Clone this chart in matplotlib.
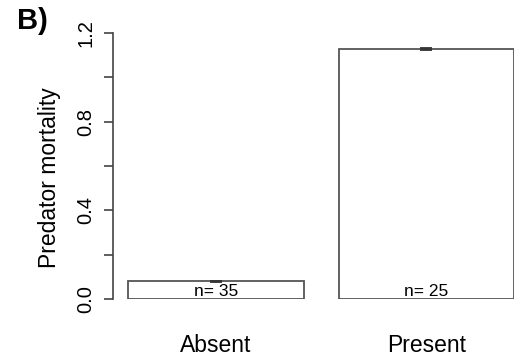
import matplotlib.pyplot as plt

plt.rcParams['font.family'] = ['Liberation Sans', 'DejaVu Sans']

# Predator mortality by treatment
groups = ['Absent', 'Present']
mortality = [0.079, 1.128]
se = [0.003, 0.004]
n_obs = [35, 25]

bar_left = [0.2, 1.4]
bar_width = 1.0

fig = plt.figure(figsize=(5.16, 3.64), dpi=100)
# axes placed so x=0 sits near the left margin and y spans 0..1.2
ax = fig.add_axes([93 / 516, 65 / 364, 421 / 516, 266 / 364])

centers = [l + bar_width / 2 for l in bar_left]
ax.bar(bar_left, mortality, width=bar_width, align='edge',
       color='white', edgecolor='#555555', linewidth=1.3)
ax.errorbar(centers, mortality, yerr=se, fmt='none', ecolor='#333333',
            elinewidth=1.0, capsize=4.5, capthick=1.3)

for c, n in zip(centers, n_obs):
    ax.annotate(f'n= {n}', (c, 0), xytext=(0, 2), textcoords='offset points',
                ha='center', va='baseline', fontsize=12.5)

ax.set_xlim(0, 2.4)
ax.set_ylim(0, 1.2)

for s in ['top', 'right', 'bottom']:
    ax.spines[s].set_visible(False)
ax.spines['left'].set_position(('axes', 20 / 421))
ax.spines['left'].set_color('#444444')
ax.spines['left'].set_linewidth(1.2)

ax.set_yticks([0.0, 0.2, 0.4, 0.6, 0.8, 1.0, 1.2])
ax.set_yticklabels(['0.0', '', '0.4', '', '0.8', '', '1.2'],
                   rotation=90, va='center', fontsize=14.5)
ax.tick_params(axis='y', length=6.5, width=1.2, color='#444444', pad=6)
ax.set_xticks([])

for c, g in zip(centers, groups):
    fig.text((93 + c * 175.5) / 516, 1 - 346 / 364, g, ha='center', va='center',
             fontsize=16.5)

fig.text(50 / 516, 1 - 178 / 364, 'Predator mortality', rotation=90,
         ha='center', va='center', fontsize=16.5)
fig.text(17 / 516, 1 - 21 / 364, 'B)', ha='left', va='center',
         fontsize=21, fontweight='bold')

fig.savefig('out.png', dpi=100)
